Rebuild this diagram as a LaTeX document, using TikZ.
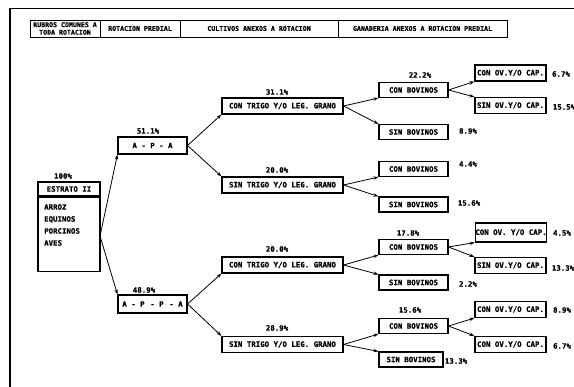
\documentclass[tikz,border=0pt]{standalone}
\usepackage{fontspec}
\newfontfamily\monof[BoldFeatures={FakeBold=0.6}]{DejaVu Sans Mono}
\usetikzlibrary{arrows.meta}
\begin{document}
\begin{tikzpicture}[x=1pt,y=-1pt,
  box/.style={draw,line width=1.1pt,inner sep=0pt,anchor=center,
    font=\monof\bfseries\fontsize{7.4}{8}\selectfont},
  hdr/.style={draw,line width=0.9pt,inner sep=0pt,minimum height=17pt,
    font=\monof\bfseries\fontsize{6.6}{7.6}\selectfont,align=center},
  pct/.style={inner sep=0pt,font=\monof\bfseries\fontsize{7.4}{8}\selectfont},
  arr/.style={line width=0.8pt,-{Stealth[length=5pt,width=3.4pt]}},
  w2/.style={minimum width=121pt,minimum height=16pt},
  w3/.style={minimum width=69pt,minimum height=15pt},
  w4/.style={minimum width=71pt,minimum height=16pt}]
\useasboundingbox (0,0) rectangle (574,387);
% outer frame
\draw[line width=1.8pt] (10,387) -- (10,8.5) -- (574,8.5);
% header
\node[hdr,minimum width=70pt] (h1) at (65,28.5) {RUBROS COMUNES A\\TODA ROTACION};
\node[hdr,minimum width=80pt] (h2) at (140,28.5) {ROTACION PREDIAL};
\node[hdr,minimum width=158pt] (h3) at (259,28.5) {CULTIVOS ANEXOS A ROTACION};
\node[hdr,minimum width=169pt] (h4) at (422.5,28.5) {GANADERIA ANEXOS A ROTACION PREDIAL};
% root
\node[box,minimum width=62pt,minimum height=14pt] (root) at (69,189) {ESTRATO II};
\node[box,minimum width=62pt,minimum height=74pt,anchor=north] (rootb) at (root.south) {};
\node[pct,anchor=north west,align=left,font=\monof\bfseries\fontsize{7.4}{12}\selectfont] (list) at (44,204) {ARROZ\\EQUINOS\\PORCINOS\\AVES};
\node[pct] (p100) at (63,176) {100\%};
\coordinate (rs) at (100,236);
% level 1
\node[box,minimum width=69pt,minimum height=17pt] (apa) at (152.5,145.5) {A - P - A};
\node[box,minimum width=69pt,minimum height=18pt] (appa) at (152.5,304) {A - P\, - P\, - A};
\node[pct] (p511) at (148,131) {51.1\%};
\node[pct] (p489) at (144,290) {48.9\%};
% level 2
\node[box,w2] (ct1) at (282.5,106) {CON TRIGO Y/O LEG. GRANO};
\node[box,w2] (st1) at (282.5,185) {SIN TRIGO Y/O LEG. GRANO};
\node[box,w2] (ct2) at (282.5,265) {CON TRIGO Y/O LEG. GRANO};
\node[box,w2] (st2) at (282.5,344.5) {SIN TRIGO Y/O LEG. GRANO};
\node[pct] (p311) at (277,92) {31.1\%};
\node[pct] (p200a) at (277,170) {20.0\%};
\node[pct] (p200b) at (277,249) {20.0\%};
\node[pct] (p289) at (277,328) {28.9\%};
% level 3
\node[box,w3] (cb1) at (413.5,90) {CON BOVINOS};
\node[box,w3] (sb1) at (413.5,132) {SIN BOVINOS};
\node[box,w3] (cb2) at (413.5,169) {CON BOVINOS};
\node[box,w3] (sb2) at (413.5,204.5) {SIN BOVINOS};
\node[box,w3] (cb3) at (413.5,247) {CON BOVINOS};
\node[box,w3] (sb3) at (413.5,282.5) {SIN BOVINOS};
\node[box,w3] (cb4) at (413.5,326) {CON BOVINOS};
\node[box,w3,minimum width=64pt] (sb4) at (411,359.5) {SIN BOVINOS};
\node[pct] (p222) at (420,75) {22.2\%};
\node[pct] (p89a) at (468,131) {8.9\%};
\node[pct] (p44) at (468,164) {4.4\%};
\node[pct] (p156a) at (469,203) {15.6\%};
\node[pct] (p178) at (408,233) {17.8\%};
\node[pct] (p22) at (468,284) {2.2\%};
\node[pct] (p156b) at (410,310) {15.6\%};
\node[pct] (p133a) at (456,361) {13.3\%};
% level 4
\node[box,w4] (co1) at (510.5,73) {CON OV.Y/O CAP.};
\node[box,w4] (so1) at (510.5,105.5) {SIN OV.Y/O CAP.};
\node[box,w4,minimum height=19pt] (co2) at (511,232.5) {CON OV. Y/O CAP.};
\node[box,w4] (so2) at (510.5,265.5) {SIN OV.Y/O CAP.};
\node[box,w4] (co3) at (510.5,309.5) {CON OV.Y/O CAP.};
\node[box,w4] (co4) at (510.5,344.5) {CON OV.Y/O CAP.};
\node[pct] (p67a) at (561,74) {6.7\%};
\node[pct] (p155) at (564,107) {15.5\%};
\node[pct] (p45) at (562,233) {4.5\%};
\node[pct] (p133b) at (563,268) {13.3\%};
\node[pct] (p89b) at (562,310) {8.9\%};
\node[pct] (p67b) at (562,346) {6.7\%};
% connectors
\draw[arr] (rs) -- (apa.south west);
\draw[arr] (rs) -- (appa.north west);
\foreach \p/\a/\b in {apa/ct1/st1, appa/ct2/st2, ct1/cb1/sb1, st1/cb2/sb2,
  ct2/cb3/sb3, st2/cb4/sb4, cb1/co1/so1, cb3/co2/so2, cb4/co3/co4}{
  \draw[arr] (\p.east) -- (\a.south west);
  \draw[arr] (\p.east) -- (\b.north west);
}
\end{tikzpicture}
\end{document}
